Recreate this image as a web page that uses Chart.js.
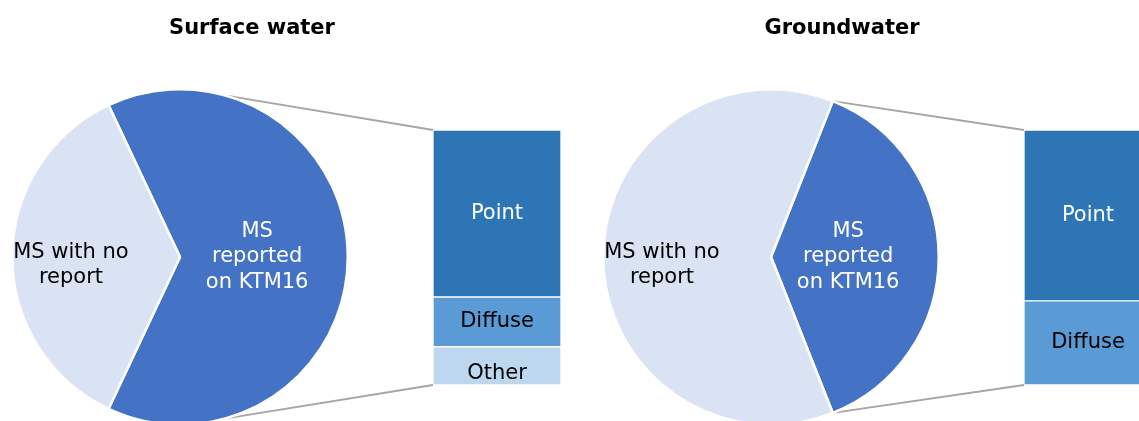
<!DOCTYPE html>
<html>
<head>
<meta charset="utf-8">
<script src="https://cdn.jsdelivr.net/npm/chart.js@4"></script>
<style>
  body { margin: 0; background: #fff; font-family: "DejaVu Sans", Verdana, sans-serif; }
  #wrap { position: relative; width: 1139px; height: 421px; overflow: hidden; }
  canvas { position: absolute; }
  .title { position: absolute; top: 15px; font-weight: bold; font-size: 21px; line-height: 24px;
           transform: translateX(-50%); white-space: nowrap; color: #000; }
</style>
</head>
<body>
<div id="wrap">
  <canvas id="lines" width="1139" height="421" style="left:0;top:0"></canvas>
  <div class="title" style="left:252px">Surface water</div>
  <div class="title" style="left:842px">Groundwater</div>
  <canvas id="pieSurface" width="338" height="338" style="left:11px;top:88px"></canvas>
  <canvas id="barSurface" width="128" height="255" style="left:433px;top:130px"></canvas>
  <canvas id="pieGround" width="338" height="338" style="left:602px;top:88px"></canvas>
  <canvas id="barGround" width="128" height="255" style="left:1024px;top:130px"></canvas>
</div>
<script>
// pie: share of member states
const pieLabels = ["MS\nreported\non KTM16", "MS with no\nreport"];
const surfacePie = [64, 36];
const groundPie = [38, 62];

// bar: split of the "reported" slice (top to bottom)
const surfaceBarLabels = ["Point", "Diffuse", "Other"];
const surfaceBarValues = [65.5, 19.5, 15];
const groundBarLabels = ["Point", "Diffuse"];
const groundBarValues = [67, 33];

const pieColors = ["#4472C4", "#DAE3F3"];
const pieTextColors = ["#fff", "#000"];
const barColors = ["#2E75B6", "#5B9BD5", "#BDD7EE"];
const barTextColors = ["#fff", "#000", "#000"];
const barTextDy = [0, 0, 8];
const labelFont = "21px 'DejaVu Sans', Verdana, sans-serif";

function drawText(ctx, text, x, y, color) {
  const lines = text.split("\n");
  const lh = 25.5;
  ctx.save();
  ctx.font = labelFont;
  ctx.fillStyle = color;
  ctx.textAlign = "center";
  ctx.textBaseline = "middle";
  lines.forEach((l, i) => {
    ctx.fillText(l, x, y + (i - (lines.length - 1) / 2) * lh);
  });
  ctx.restore();
}

const sliceLabels = {
  id: "sliceLabels",
  afterDatasetsDraw(chart) {
    const arcs = chart.getDatasetMeta(0).data;
    arcs.forEach((el, i) => {
      const mid = (el.startAngle + el.endAngle) / 2;
      const r = el.outerRadius * (i === 0 ? 0.46 : 0.65);
      const x = el.x + r * Math.cos(mid);
      const y = el.y + r * Math.sin(mid) + (i === 0 ? 0 : 8);
      drawText(chart.ctx, chart.data.labels[i], x, y, pieTextColors[i]);
    });
  },
};

const segmentLabels = {
  id: "segmentLabels",
  afterDatasetsDraw(chart) {
    chart.data.datasets.forEach((ds, i) => {
      const el = chart.getDatasetMeta(i).data[0];
      drawText(chart.ctx, ds.label, el.x, (el.y + el.base) / 2 + ds.textDy, ds.textColor);
    });
  },
};

function pieChart(id, values) {
  const frac = values[0] / (values[0] + values[1]);
  return new Chart(document.getElementById(id), {
    type: "pie",
    data: {
      labels: pieLabels,
      datasets: [{ data: values, backgroundColor: pieColors, borderColor: "#fff", borderWidth: 2.5 }],
    },
    options: {
      responsive: false,
      animation: false,
      rotation: 90 - frac * 180,
      plugins: { legend: { display: false }, tooltip: { enabled: false } },
    },
    plugins: [sliceLabels],
  });
}

function barChart(id, labels, values) {
  const total = values.reduce((a, b) => a + b, 0);
  const datasets = labels.map((l, i) => ({
    label: l,
    data: [values[i]],
    backgroundColor: barColors[i],
    textColor: barTextColors[i],
    textDy: barTextDy[i],
    borderColor: "#fff",
    borderWidth: 1,
    borderSkipped: false,
    barPercentage: 1,
    categoryPercentage: 1,
  })).reverse();
  return new Chart(document.getElementById(id), {
    type: "bar",
    data: { labels: [""], datasets: datasets },
    options: {
      responsive: false,
      animation: false,
      scales: {
        x: { display: false, stacked: true },
        y: { display: false, stacked: true, min: 0, max: total },
      },
      plugins: { legend: { display: false }, tooltip: { enabled: false } },
    },
    plugins: [segmentLabels],
  });
}

function connect(pie, bar) {
  const ctx = document.getElementById("lines").getContext("2d");
  const arc = pie.getDatasetMeta(0).data[0];
  const cx = arc.x + pie.canvas.offsetLeft;
  const cy = arc.y + pie.canvas.offsetTop;
  const r = arc.outerRadius;
  let a1 = arc.startAngle, a2 = arc.endAngle;
  const off = 15.5 * Math.PI / 180;
  if (Math.cos(a1) < 0) a1 = -Math.PI / 2 + off;
  if (Math.cos(a2) < 0) a2 = Math.PI / 2 - off;
  const n = bar.data.datasets.length;
  const topEl = bar.getDatasetMeta(n - 1).data[0];
  const botEl = bar.getDatasetMeta(0).data[0];
  const left = topEl.x - topEl.width / 2 + bar.canvas.offsetLeft;
  const yTop = topEl.y + bar.canvas.offsetTop;
  const yBot = botEl.base + bar.canvas.offsetTop;
  ctx.strokeStyle = "#A5A5A5";
  ctx.lineWidth = 1.8;
  ctx.beginPath();
  ctx.moveTo(cx + r * Math.cos(a1), cy + r * Math.sin(a1));
  ctx.lineTo(left, yTop);
  ctx.moveTo(cx + r * Math.cos(a2), cy + r * Math.sin(a2));
  ctx.lineTo(left, yBot);
  ctx.stroke();
}

const p1 = pieChart("pieSurface", surfacePie);
const b1 = barChart("barSurface", surfaceBarLabels, surfaceBarValues);
const p2 = pieChart("pieGround", groundPie);
const b2 = barChart("barGround", groundBarLabels, groundBarValues);
connect(p1, b1);
connect(p2, b2);
</script>
</body>
</html>
